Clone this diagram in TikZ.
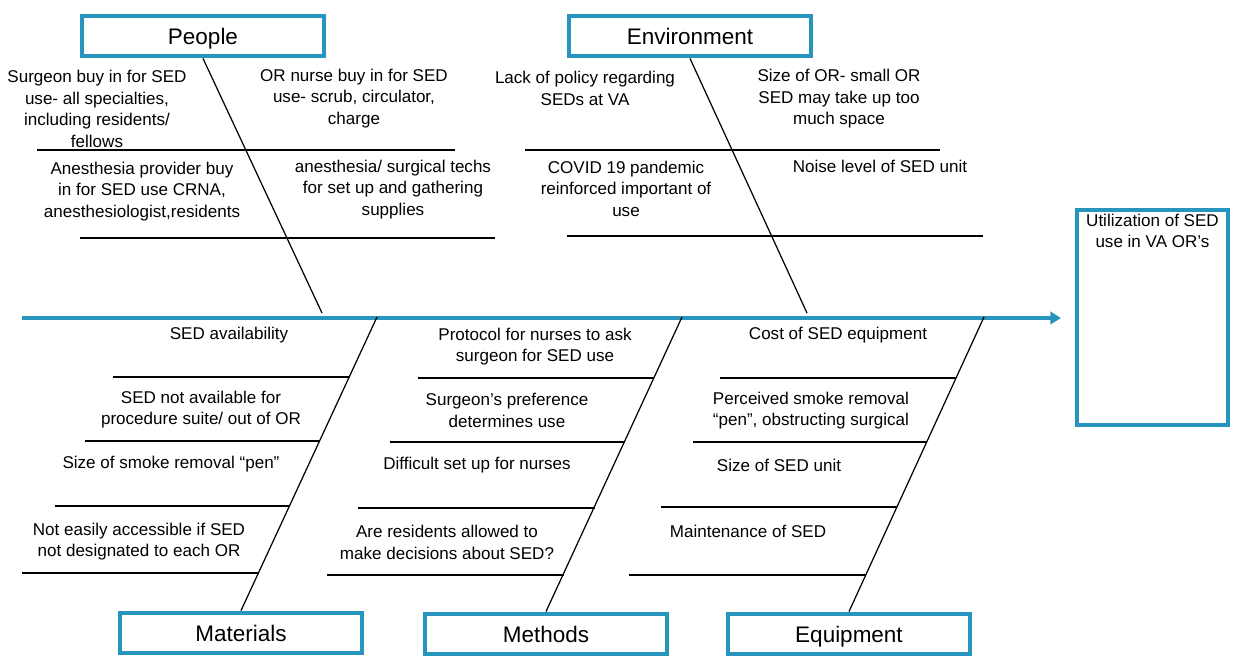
\documentclass[tikz,border=0pt]{standalone}
\usepackage{fontspec}
\setmainfont{Liberation Sans}
\usetikzlibrary{arrows.meta,positioning}
\definecolor{fishteal}{RGB}{38,150,190}
\tikzstyle{catbox}=[draw=fishteal, line width=2.5pt, minimum width=4.83cm, minimum height=0.81cm, inner sep=0pt, text height=9.2pt, text depth=0pt, font=\fontsize{12.8}{15}\selectfont]
\tikzstyle{outbox}=[draw=fishteal, line width=2.5pt, minimum width=3.01cm, minimum height=4.29cm, inner sep=0pt]
\tikzstyle{cause}=[align=center, inner sep=0pt, font=\fontsize{9.7}{12.2}\selectfont]
\tikzstyle{bone}=[line width=0.7pt]
\tikzstyle{rib}=[line width=0.8pt]
\tikzstyle{spine}=[draw=fishteal, line width=1.8pt, -{Triangle[length=6pt,width=7pt]}]

\begin{document}
\begin{tikzpicture}[x=0.02cm, y=-0.02cm]
    \useasboundingbox (0,0) rectangle (1235,656);

    % Categories
    \node[catbox] (people) at (203,36) {People};
    \node[catbox] (environment) at (690,36) {Environment};
    \node[catbox] (materials) at (241,633) {Materials};
    \node[catbox] (methods) at (546,634) {Methods};
    \node[catbox] (equipment) at (849,634) {Equipment};

    % Effect
    \node[outbox] (outcome) at (1152.5,317.5) {};
    \node[cause, anchor=north] (outcometext) at ([yshift=-3pt]outcome.north) {Utilization of SED\\use in VA OR's};

    % Spine
    \coordinate (tail) at (22,318);
    \coordinate (head) at (1061,318);
    \draw[spine] (tail) -- (head);

    % Bones
    \coordinate (peopleJ) at (322,313);
    \coordinate (environmentJ) at (807,313);
    \coordinate (materialsJ) at (377,317);
    \coordinate (methodsJ) at (682,317);
    \coordinate (equipmentJ) at (984,317);
    \draw[bone] (people.south) -- (peopleJ);
    \draw[bone] (environment.south) -- (environmentJ);
    \draw[bone] (materialsJ) -- (materials.north);
    \draw[bone] (methodsJ) -- (methods.north);
    \draw[bone] (equipmentJ) -- (equipment.north);

    % Ribs
    \foreach \ya/\xa/\xb in {
            150/37/455, 238/80/495,
            150/525/940, 236/567/983,
            377/113/349, 441/85/320, 506/55/290, 573/22/259,
            378/418/654, 442/390/625, 508/358/595, 575/327/564,
            378/720/956, 442/693/927, 507/661/897, 575/629/866
            } {
        \draw[rib] (\xa,\ya) -- (\xb,\ya);
    }

    % People
    \node[cause] (surgeon) at (97,109) {Surgeon buy in for SED\\use- all specialties,\\including residents/\\fellows};
    \node[cause] (ornurse) at (354,98.5) {OR nurse buy in for SED\\use- scrub, circulator,\\charge};
    \node[cause] (anesprov) at (142,191.5) {Anesthesia provider buy\\in for SED use CRNA,\\anesthesiologist,residents};
    \node[cause] (techs) at (393,189.5) {anesthesia/ surgical techs\\for set up and gathering\\supplies};

    % Environment
    \node[cause] (policy) at (585,88.5) {Lack of policy regarding\\SEDs at VA};
    \node[cause] (orsize) at (839,99) {Size of OR- small OR\\SED may take up too\\much space};
    \node[cause] (covid) at (626,188.5) {COVID 19 pandemic\\reinforced important of\\use};
    \node[cause] (noise) at (880,166) {Noise level of SED unit};

    % Materials
    \node[cause] (avail) at (229,335) {SED availability};
    \node[cause] (notavail) at (201,409.5) {SED not available for\\procedure suite/ out of OR};
    \node[cause] (pensize) at (171,464) {Size of smoke removal ``pen''};
    \node[cause] (access) at (139,541.5) {Not easily accessible if SED\\not designated to each OR};

    % Methods
    \node[cause] (protocol) at (535,346.5) {Protocol for nurses to ask\\surgeon for SED use};
    \node[cause] (preference) at (507,410.5) {Surgeon's preference\\determines use};
    \node[cause] (setup) at (477,465) {Difficult set up for nurses};
    \node[cause] (residents) at (447,542.5) {Are residents allowed to\\make decisions about SED?};

    % Equipment
    \node[cause] (cost) at (838,335) {Cost of SED equipment};
    \node[cause] (perceived) at (811,410.5) {Perceived smoke removal\\``pen'', obstructing surgical};
    \node[cause] (unitsize) at (779,465) {Size of SED unit};
    \node[cause] (maint) at (748,531) {Maintenance of SED};
\end{tikzpicture}
\end{document}
